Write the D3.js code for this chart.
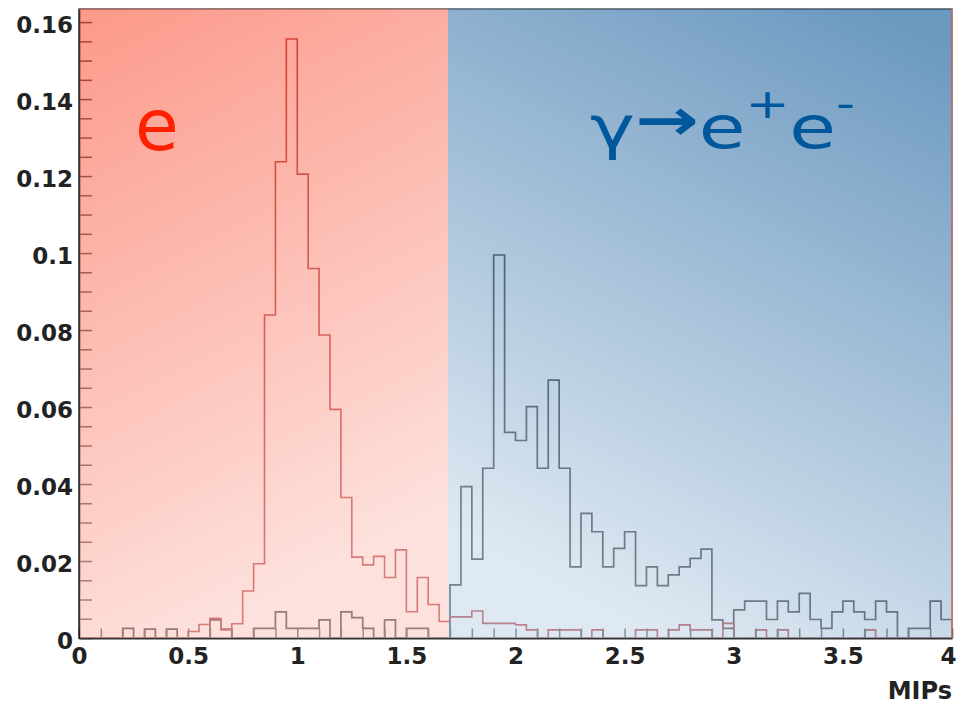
<!DOCTYPE html>
<html>
<head>
<meta charset="utf-8">
<script src="https://cdn.jsdelivr.net/npm/d3@7"></script>
<style>
  body { margin: 0; background: #fff; }
  svg { display: block; }
</style>
</head>
<body>
<div id="chart"></div>
<script>
// histogram of energy deposit (MIPs), 80 bins of 0.05 from 0 to 4
const binWidth = 0.05;
const binStarts = d3.range(80).map(i => +(i * binWidth).toFixed(2));

// electrons (red outline)
const electron = [
  0, 0, 0, 0, 0, 0, 0, 0, 0, 0,
  0.0017, 0.0035, 0.0051, 0.0021, 0.0037, 0.0122, 0.0193, 0.0839, 0.1237, 0.1556,
  0.1205, 0.0960, 0.0787, 0.0594, 0.0365, 0.0210, 0.0190, 0.0212, 0.0157, 0.0229,
  0.0068, 0.0157, 0.0087, 0.0043, 0.0055, 0.0055, 0.0070, 0.0038, 0.0038, 0.0038,
  0.0034, 0.0021, 0, 0.0021, 0.0021, 0.0021, 0, 0.0021, 0, 0,
  0, 0.0021, 0.0021, 0, 0.0021, 0.0034, 0.0021, 0.0021, 0, 0.0038,
  0, 0, 0.0021, 0, 0.0021, 0, 0, 0, 0, 0,
  0, 0, 0.0021, 0, 0, 0, 0, 0, 0, 0
];

// photon conversions gamma -> e+e- (dark outline)
const photon = [
  0, 0, 0, 0, 0.0025, 0, 0.0023, 0, 0.0023, 0,
  0, 0, 0.0047, 0.0023, 0, 0, 0.0025, 0.0025, 0.0068, 0.0025,
  0.0025, 0.0025, 0.0047, 0, 0.0068, 0.0053, 0.0025, 0, 0.0047, 0,
  0.0025, 0.0025, 0, 0, 0.0138, 0.0393, 0.0205, 0.0441, 0.0995, 0.0534,
  0.0513, 0.0601, 0.0441, 0.0670, 0.0441, 0.0185, 0.0324, 0.0276, 0.0185, 0.0233,
  0.0276, 0.0136, 0.0185, 0.0136, 0.0164, 0.0185, 0.0207, 0.0231, 0.0047, 0.0025,
  0.0073, 0.0096, 0.0096, 0.0048, 0.0096, 0.0068, 0.0116, 0.0048, 0.0025, 0.0068,
  0.0096, 0.0068, 0.0048, 0.0096, 0.0068, 0, 0.0025, 0.0025, 0.0096, 0.0048
];

const xTicks = [0, 0.5, 1, 1.5, 2, 2.5, 3, 3.5, 4];
const yTicks = [0, 0.02, 0.04, 0.06, 0.08, 0.1, 0.12, 0.14, 0.16];
const split = 1.69; // boundary between the two shaded regions

const W = 958, H = 704;
const margin = { top: 9, right: 6, bottom: 66, left: 79 };

const svg = d3.select("#chart").append("svg")
  .attr("width", W).attr("height", H);

const x = d3.scaleLinear().domain([0, 4]).range([margin.left, W - margin.right]);
const y = d3.scaleLinear().domain([0, 0.1634]).range([H - margin.bottom, margin.top]);

const defs = svg.append("defs");
defs.append("clipPath").attr("id", "plotclip")
  .append("rect")
  .attr("x", x(0)).attr("y", y(0.1634))
  .attr("width", x(4) - x(0)).attr("height", y(0) - y(0.1634));

const gRed = defs.append("linearGradient").attr("id", "gradRed")
  .attr("x1", 0).attr("y1", 0).attr("x2", 0.3).attr("y2", 1);
gRed.append("stop").attr("offset", "0%").attr("stop-color", "rgb(250,85,60)");
gRed.append("stop").attr("offset", "100%").attr("stop-color", "rgb(252,205,197)");

const gBlue = defs.append("linearGradient").attr("id", "gradBlue")
  .attr("x1", 0.85).attr("y1", 0).attr("x2", 0.45).attr("y2", 1);
gBlue.append("stop").attr("offset", "0%").attr("stop-color", "rgb(10,85,150)");
gBlue.append("stop").attr("offset", "100%").attr("stop-color", "rgb(200,217,233)");

// frame
svg.append("rect")
  .attr("x", x(0)).attr("y", y(0.1634))
  .attr("width", x(4) - x(0)).attr("height", y(0) - y(0.1634))
  .attr("fill", "#fff").attr("stroke", "#555").attr("stroke-width", 1.5);

// step outline for a histogram
function stepPoints(vals) {
  const pts = [[0, 0]];
  vals.forEach((v, i) => {
    pts.push([binStarts[i], v]);
    pts.push([binStarts[i] + binWidth, v]);
  });
  pts.push([4, 0]);
  return pts;
}
const line = d3.line().x(d => x(d[0])).y(d => y(d[1]));

const plot = svg.append("g").attr("clip-path", "url(#plotclip)");
plot.append("path").attr("d", line(stepPoints(photon)))
  .attr("fill", "none").attr("stroke", "#000").attr("stroke-width", 1.7);
plot.append("path").attr("d", line(stepPoints(electron)))
  .attr("fill", "none").attr("stroke", "#a00000").attr("stroke-width", 1.6);

// axes, ticks pointing inwards like ROOT
const fmt = d => String(+d.toFixed(3));

const yAxis = svg.append("g").attr("transform", `translate(${x(0)},0)`)
  .call(d3.axisLeft(y).tickValues(yTicks).tickSizeInner(-26).tickSizeOuter(0)
    .tickPadding(6).tickFormat(fmt));
svg.append("g").attr("transform", `translate(${x(0)},0)`)
  .call(d3.axisLeft(y).tickValues(d3.range(0, 0.1634, 0.005)).tickSizeInner(-13)
    .tickSizeOuter(0).tickFormat(""));

const xAxis = svg.append("g").attr("transform", `translate(0,${y(0)})`)
  .call(d3.axisBottom(x).tickValues(xTicks).tickSizeInner(-19).tickSizeOuter(0)
    .tickPadding(10).tickFormat(fmt));
svg.append("g").attr("transform", `translate(0,${y(0)})`)
  .call(d3.axisBottom(x).tickValues(d3.range(0, 4.01, 0.1)).tickSizeInner(-9.5)
    .tickSizeOuter(0).tickFormat(""));

svg.selectAll(".domain").attr("stroke", "#333").attr("stroke-width", 2);
svg.selectAll(".tick line").attr("stroke", "#222").attr("stroke-width", 1.5);

// coloured overlays on top of the plot
svg.append("rect")
  .attr("x", x(0) + 1).attr("y", y(0.1634))
  .attr("width", x(split) - x(0) - 1).attr("height", y(0) - y(0.1634))
  .attr("fill", "url(#gradRed)").attr("opacity", 0.6);
svg.append("rect")
  .attr("x", x(split)).attr("y", y(0.1634))
  .attr("width", x(4) - x(split)).attr("height", y(0) - y(0.1634))
  .attr("fill", "url(#gradBlue)").attr("opacity", 0.6);
svg.append("line")
  .attr("x1", x(4)).attr("x2", x(4)).attr("y1", y(0.1634)).attr("y2", y(0))
  .attr("stroke", "#c77a72").attr("stroke-width", 1.5);

// tick labels on top
svg.selectAll(".tick text")
  .attr("font-family", "DejaVu Sans, sans-serif")
  .attr("font-weight", "bold")
  .attr("font-size", 23)
  .attr("fill", "#222");
yAxis.selectAll(".tick text").attr("dy", "0.47em");
xAxis.selectAll(".tick text").filter(d => d === 4).attr("dx", -4);
yAxis.raise();
xAxis.raise();
yAxis.selectAll(".tick line, .domain").remove();
xAxis.selectAll(".tick line, .domain").remove();

svg.append("text")
  .attr("x", x(4)).attr("y", 699)
  .attr("text-anchor", "end")
  .attr("font-family", "DejaVu Sans, sans-serif")
  .attr("font-weight", "bold")
  .attr("font-size", 24)
  .attr("fill", "#222")
  .text("MIPs");

// region labels
svg.append("text")
  .attr("x", 135).attr("y", 150)
  .attr("font-family", "DejaVu Sans, sans-serif")
  .attr("font-size", 71)
  .attr("fill", "#ff2200")
  .text("e");

const gam = svg.append("text")
  .attr("x", 590).attr("y", 148)
  .attr("font-family", "DejaVu Sans, sans-serif")
  .attr("font-size", 58)
  .attr("fill", "#00579b")
  .attr("textLength", 265)
  .attr("lengthAdjust", "spacingAndGlyphs");
gam.append("tspan").text("γ");
gam.append("tspan").attr("dy", -8).attr("font-weight", "bold").text("→");
gam.append("tspan").attr("dy", 8).text("e");
gam.append("tspan").attr("dy", -30).attr("font-size", 40).text("+");
gam.append("tspan").attr("dy", 30).text("e");
gam.append("tspan").attr("dy", -30).attr("font-size", 40).text("-");
</script>
</body>
</html>
